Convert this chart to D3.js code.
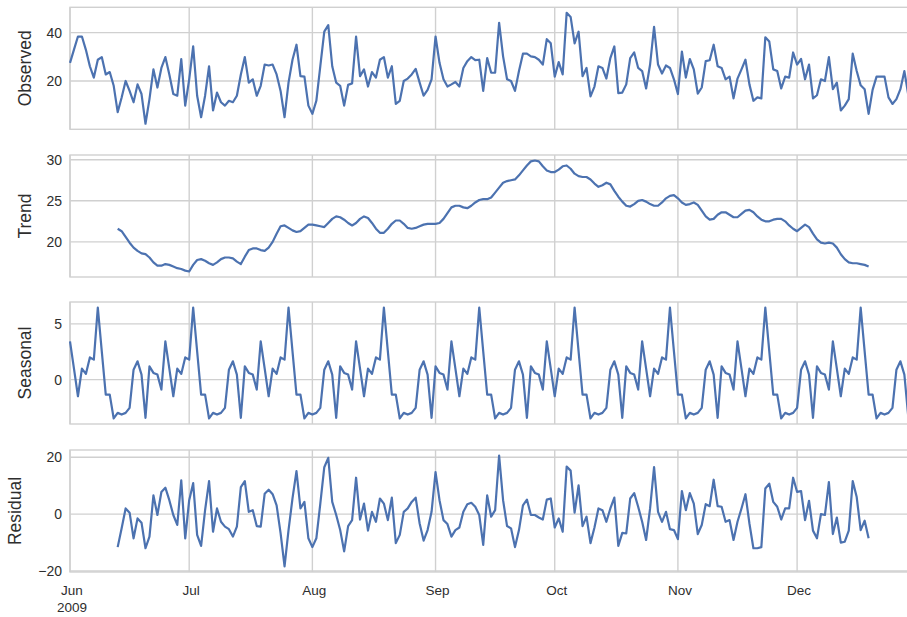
<!DOCTYPE html>
<html><head><meta charset="utf-8">
<script src="https://cdn.jsdelivr.net/npm/d3@7"></script>
<style>
body{margin:0;background:#fff;}
svg{display:block;font-family:"Liberation Sans",Arial,Helvetica,sans-serif;}
</style>
</head><body>
<svg id="chart" width="907" height="617"></svg>
<script>
// ---------------- DATA ----------------
const startDate = Date.UTC(2009, 5, 1); // 2009-06-01, one value per day
const observed = [
27.5,33,38.4,38.4,32.9,26.1,21.4,28.8,29.9,22.7,23.7,18,7.1,13.2,20,15.9,11.2,18.6,14.6,2.3,
12.5,24.8,17.3,25.4,29.9,22.7,14.6,13.9,29.1,9.8,20.7,34.3,13.9,5.0,13.9,26.1,7.8,15.2,11.2,9.8,
11.8,11.2,13.9,22.7,29.9,19.3,20.7,13.9,18,26.8,26.4,26.8,22.7,15.9,5.0,19.3,28.8,35,22,21.8,
9.8,6.4,11.8,26.1,40.4,43.1,26.1,19.3,18,9.8,18.4,19,38.4,22,24.8,17.7,23.7,21.4,28.8,29.9,
21.4,26.1,10.5,11.8,20,21,22.7,25,19.3,13.9,16.3,20.7,38.4,27.5,20.7,17.7,18.6,19.6,17.7,25.4,
28.2,29.9,28.6,28.8,15.9,29.5,23.4,23.4,44.1,30.2,20.7,20,15.9,24.1,31.3,31.3,30.2,29.9,28.8,26.8,
37.3,35.6,21.8,27.8,22.7,48.2,46.5,35.6,40.4,22,25.4,13.6,17.7,26.1,25.4,21,29.5,34.3,15,15.2,
18.6,29.5,31.8,25.4,24.1,16.9,26.8,42.4,26.8,23.1,26.4,25.4,20.7,14.6,32.2,21.4,29.1,24.8,14.8,17.3,
28.2,28.6,35,26.1,25.4,20.7,21.8,12.8,21,24.8,28.8,18.6,11.8,13.2,12.8,38.1,36.3,24.8,24.1,16.9,
21.8,21.4,31.8,26.8,29.1,20.7,26.8,12.8,14.1,20.7,20,29.9,16.6,19.3,7.8,9.8,12.5,31.3,24.1,18.2,
16.6,6.4,16.3,21.8,21.8,21.8,13.2,10.5,12.5,16.6,24.1,14,17,21
];
const trendStart = 12; // first day index with a trend / residual value
const trend = [
21.6,21.3,20.6,19.9,19.3,18.9,18.6,18.5,18.1,17.5,17.1,17.1,17.3,17.2,17.0,16.8,16.7,16.5,16.4,17.2,
17.8,17.9,17.7,17.4,17.2,17.5,17.9,18.1,18.1,18.0,17.6,17.3,18.2,19.0,19.2,19.2,19.0,18.9,19.3,20.0,
21.0,21.9,22.0,21.7,21.4,21.2,21.3,21.7,22.1,22.1,22.0,21.9,21.8,22.3,22.8,23.1,23.0,22.7,22.3,22.0,
22.3,22.8,23.1,22.9,22.3,21.6,21.1,21.1,21.6,22.2,22.6,22.6,22.2,21.7,21.6,21.7,21.9,22.1,22.2,22.2,
22.2,22.3,22.8,23.5,24.2,24.4,24.4,24.2,24.1,24.4,24.8,25.1,25.2,25.2,25.4,26.0,26.6,27.2,27.4,27.5,
27.6,28.1,28.7,29.3,29.8,29.9,29.8,29.2,28.7,28.5,28.5,28.8,29.2,29.3,28.9,28.3,28.0,27.9,27.9,27.6,
27.1,26.7,26.9,27.2,27.0,26.2,25.5,24.9,24.4,24.3,24.6,25.0,25.1,24.9,24.6,24.4,24.4,24.8,25.3,25.6,
25.7,25.3,24.8,24.5,24.6,24.8,24.5,23.8,23.1,22.7,22.8,23.3,23.6,23.6,23.3,23.0,23.0,23.4,23.8,23.9,
23.6,23.1,22.7,22.5,22.5,22.7,22.8,22.8,22.5,22.0,21.6,21.3,21.7,22.1,21.8,21.0,20.3,19.9,19.8,19.9,
19.8,19.3,18.5,17.9,17.5,17.4,17.4,17.3,17.2,17.0
];
const seasonalCycle = [
3.42,0.98,-1.49,0.98,0.51,1.99,1.79,6.46,2.53,-1.34,-1.34,-3.48,
-2.98,-3.13,-2.98,-2.53,0.89,1.64,0.45,-3.42,1.19,0.6,0.45,-0.89
];
const residual = [
-11.6,-5,2.0,0.5,-8.5,-1.5,-3,-12,-7.9,6.6,-0.3,7.8,9.3,4.9,-0.3,-3.8,11.9,-8.5,4.9,10.9,
-7.3,-11.2,1.4,11.6,-6.2,2,-2.7,-4.4,-5.3,-7.9,-4.4,9.5,11.6,0.8,1.4,-4.2,-4.4,7.2,8.6,7,
3.1,-6.7,-18.4,-5.6,5.5,15.1,2,4.3,-8.5,-11.6,-8.5,3.7,16.5,19.8,4.3,-0.3,-5.6,-13.1,-4.2,-2.1,
12.8,-1.9,3.7,-5.8,0.8,-2.7,5.5,3.7,-2.1,5.8,-10.2,-7.3,0.8,2,4.3,5.8,-3.3,-9.3,-5.6,0.8,
14.8,4.9,-2.1,-3.5,-7.9,-5.6,-4.7,0.8,3.5,4,2.6,-0.3,-10.8,6.6,-0.9,1.4,20.6,4.9,-4.2,-5,
-11.6,-5.6,3.1,5.1,-0.3,-0.3,-1.2,-1.9,5.1,5.5,-4.7,-1.5,-6.2,16.7,15.3,0.5,10.1,-4.2,-0.9,-10.2,
-4.7,2,1.4,-2.7,2,5.8,-11.2,-6.6,-6.8,5.5,7.4,2.6,-2.7,-9.1,2,16.5,0.8,-2.7,0.8,-5.3,
-5.6,-8.8,8.1,1.4,7.4,3.7,-7,-3.8,3.5,2.8,12.1,2.8,2.6,-2.7,-2.1,-9.1,-2.7,2,7,-3.3,
-12,-12,-11.6,9,10.7,4.3,2.6,-1.9,2,2,12.8,7.8,8.1,-2.1,4.7,-5.8,-8.5,0,-0.3,11.3,
-7,-1.2,-10,-9.7,-5.8,11.6,6,-5.6,-2.3,-8.5
];
const panelNames = ["Observed", "Trend", "Seasonal", "Residual"];
const yTickValues = [[20, 40], [20, 25, 30], [0, 5], [-20, 0, 20]];
const monthLabels = ["Jun", "Jul", "Aug", "Sep", "Oct", "Nov", "Dec"];
const yearLabel = "2009";

// ---------------- BUILD SERIES ----------------
const N = observed.length;
const days = d3.range(N).map(i => new Date(startDate + i * 864e5));
const padded = arr => days.map((_, i) => {
  const j = i - trendStart;
  return (j >= 0 && j < arr.length) ? arr[j] : null;
});
const seriesList = [
  observed,
  padded(trend),
  days.map((_, i) => seasonalCycle[i % seasonalCycle.length]),
  padded(residual)
];

// ---------------- LAYOUT ----------------
const svg = d3.select("#chart");
const left = 70, right = 916.3;
const panelTops = [7.3, 155, 302, 450];
const panelH = 122;
const labelX = [25, 25, 25, 15];
const gridColor = "#d0d0d0";
const textColor = "#2e2e2e";
const lineColor = "#4c72b0";

const x = d3.scaleUtc().domain([days[0], days[N - 1]]).range([left, right]);
const monthTicks = d3.utcMonth.range(days[0], days[N - 1]);

seriesList.forEach((vals, p) => {
  const top = panelTops[p], bot = top + panelH;
  const defined = vals.filter(v => v != null);
  const [mn, mx] = d3.extent(defined);
  const pad = (mx - mn) * 0.05;
  const y = d3.scaleLinear().domain([mn - pad, mx + pad]).range([bot, top]);
  const g = svg.append("g");

  // horizontal grid
  g.selectAll(".hg").data(yTickValues[p]).join("line")
    .attr("x1", left).attr("x2", right)
    .attr("y1", d => y(d)).attr("y2", d => y(d))
    .attr("stroke", gridColor).attr("stroke-width", 1.4);
  // vertical grid
  g.selectAll(".vg").data(monthTicks).join("line")
    .attr("x1", d => x(d)).attr("x2", d => x(d))
    .attr("y1", top).attr("y2", bot)
    .attr("stroke", gridColor).attr("stroke-width", 1.4);
  // frame
  g.append("rect").attr("x", left).attr("y", top)
    .attr("width", right - left).attr("height", panelH)
    .attr("fill", "none").attr("stroke", gridColor).attr("stroke-width", 1.4);

  // y axis tick labels
  const ax = d3.axisLeft(y).tickValues(yTickValues[p]).tickSize(0).tickPadding(8)
    .tickFormat(d => d < 0 ? "\u2212" + Math.abs(d) : String(d));
  const axg = g.append("g").attr("transform", `translate(${left},0)`).call(ax);
  axg.select(".domain").remove();
  axg.selectAll("text").attr("fill", textColor).style("font-size", "14px")
    .style("font-family", '"Liberation Sans",Arial,sans-serif');

  // y label
  g.append("text")
    .attr("transform", `translate(${labelX[p]},${(top + bot) / 2}) rotate(-90)`)
    .attr("text-anchor", "middle").attr("dominant-baseline", "central")
    .attr("fill", textColor).style("font-size", "17.5px")
    .text(panelNames[p]);

  // line
  const line = d3.line().defined(d => d[1] != null)
    .x(d => x(d[0])).y(d => y(d[1]));
  g.append("path")
    .datum(days.map((d, i) => [d, vals[i]]))
    .attr("fill", "none").attr("stroke", lineColor)
    .attr("stroke-width", 2.2).attr("stroke-linejoin", "round")
    .attr("d", line);
});

// x axis labels under last panel
const xAxisY = panelTops[3] + panelH;
const xl = svg.append("g");
monthTicks.forEach((d, i) => {
  xl.append("text")
    .attr("x", x(d) + 2).attr("y", xAxisY + 23)
    .attr("text-anchor", "middle").attr("fill", textColor)
    .style("font-size", "13.5px").text(monthLabels[i]);
  if (i === 0) {
    xl.append("text").attr("x", x(d) + 2).attr("y", xAxisY + 40)
      .attr("text-anchor", "middle").attr("fill", textColor)
      .style("font-size", "13.5px").text(yearLabel);
  }
});
</script>
</body></html>
